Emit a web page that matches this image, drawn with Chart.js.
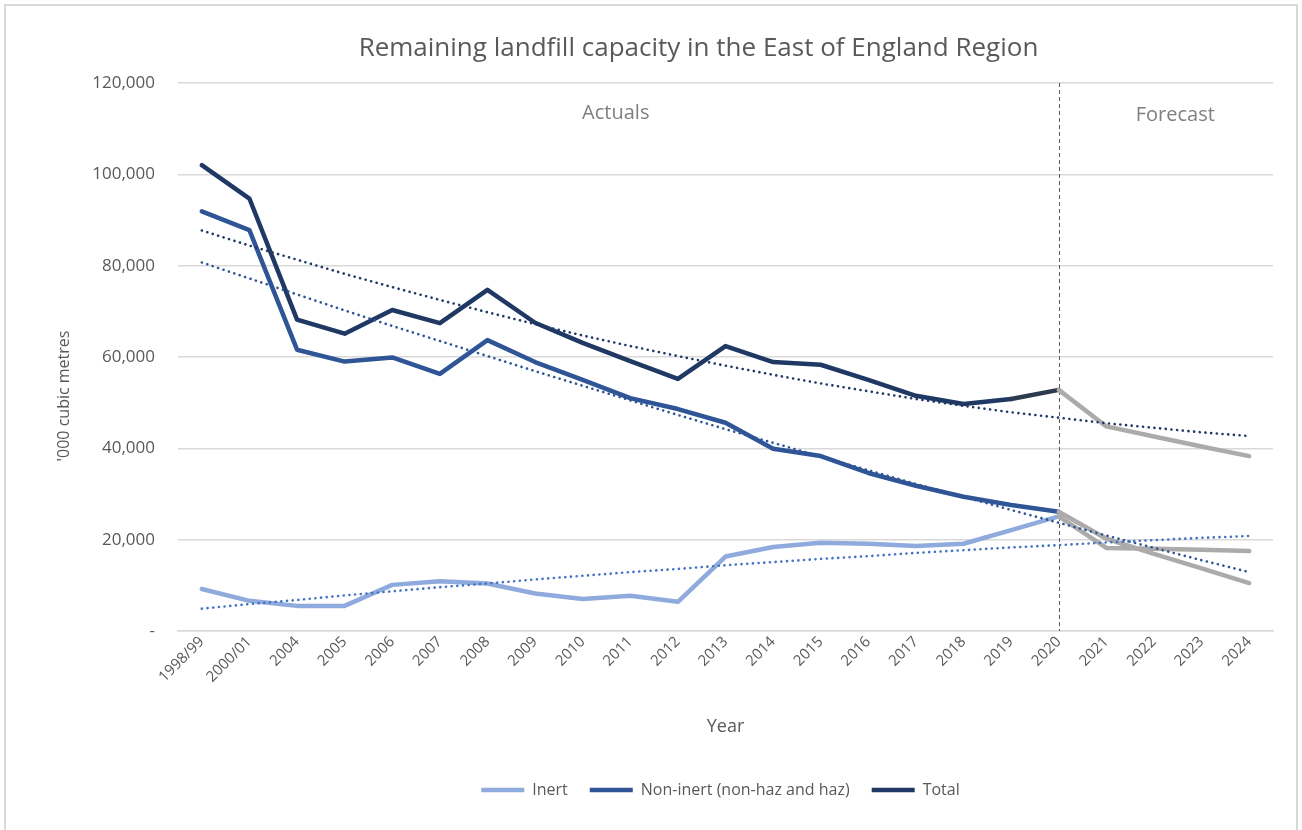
<!DOCTYPE html>
<html>
<head>
<meta charset="utf-8">
<script src="https://cdn.jsdelivr.net/npm/chart.js@4"></script>
<style>
  html, body { margin: 0; padding: 0; background: #ffffff; }
  #wrap { width: 1302px; height: 830px; position: relative; }
</style>
</head>
<body>
<div id="wrap"><canvas id="c" width="1302" height="830"></canvas></div>
<script>
// ---- data ----
const categories = ['1998/99','2000/01','2004','2005','2006','2007','2008','2009','2010','2011','2012','2013','2014','2015','2016','2017','2018','2019','2020','2021','2022','2023','2024'];
const inert    = [9200, 6600, 5500, 5500, 10100, 10900, 10400, 8200, 7000, 7700, 6400, 16300, 18400, 19300, 19100, 18600, 19100, 22100, 25100, 18200, 18000, 17800, 17500];
const nonInert = [91900, 87800, 61600, 59000, 59900, 56300, 63700, 58900, 55000, 51000, 48600, 45600, 39900, 38300, 34600, 31800, 29400, 27600, 26100, 20200, 16900, 13700, 10500];
const total    = [102000, 94700, 68200, 65100, 70300, 67400, 74700, 67500, 63100, 59100, 55200, 62400, 58900, 58300, 55000, 51500, 49700, 50800, 52800, 44800, 42600, 40400, 38300];
// dotted trend lines, values at each category
const inertTrend    = [4900, 5900, 6800, 7800, 8700, 9600, 10400, 11300, 12100, 12900, 13600, 14400, 15100, 15800, 16400, 17100, 17700, 18300, 18800, 19400, 19900, 20400, 20800];
const nonInertTrend = [80700, 77200, 73700, 70200, 66800, 63500, 60200, 56900, 53700, 50500, 47300, 44200, 41200, 38200, 35200, 32200, 29400, 26500, 23700, 20900, 18200, 15500, 12900];
const totalTrend    = [87700, 84400, 81300, 78200, 75300, 72500, 69800, 67200, 64700, 62400, 60200, 58100, 56100, 54200, 52500, 50800, 49300, 47900, 46700, 45500, 44500, 43500, 42700];
const forecastStart = '2020';
const yTicks = [0, 20000, 40000, 60000, 80000, 100000, 120000];
const seriesNames = ['Inert', 'Non-inert (non-haz and haz)', 'Total'];

const FONT = "'Open Sans', 'Noto Sans', sans-serif";
const TEXT = '#595959';
const GREY = '#ADAAAA';
const forecastIdx = categories.indexOf(forecastStart);

function seg(base, special) {
  return {
    borderColor: ctx => {
      if (ctx.p0DataIndex >= forecastIdx) return GREY;
      if (special && ctx.p0DataIndex === forecastIdx - 1) return special;
      return base;
    }
  };
}
function mainLine(label, data, color, order, special) {
  return {
    label, data, borderColor: color, backgroundColor: color,
    borderWidth: 4.5, pointRadius: 0, pointHoverRadius: 0,
    borderJoinStyle: 'round', borderCapStyle: 'round',
    tension: 0, order, segment: seg(color, special)
  };
}
function trendLine(values, color) {
  return {
    label: 'trend', data: values,
    borderColor: color, borderWidth: 2.6, borderDash: [0.1, 5.6],
    borderCapStyle: 'round', pointRadius: 0, pointHoverRadius: 0, order: 0
  };
}

const overlay = {
  id: 'overlay',
  afterLayout(chart) {
    // centre title and legend the way the reference does
    if (chart.titleBlock) { chart.titleBlock.left = 124; chart.titleBlock.right = 1273; }
    if (chart.legend) { chart.legend.left = 168; chart.legend.right = 1273; }
  },
  beforeDatasetsDraw(chart) {
    const { ctx, chartArea: a, scales: { x } } = chart;
    const px = Math.round(x.getPixelForValue(forecastIdx)) + 0.5;
    ctx.save();
    ctx.strokeStyle = '#595959';
    ctx.lineWidth = 1;
    ctx.setLineDash([4, 3]);
    ctx.beginPath();
    ctx.moveTo(px, a.top);
    ctx.lineTo(px, a.bottom);
    ctx.stroke();
    ctx.setLineDash([]);
    ctx.fillStyle = '#7F7F7F';
    ctx.font = "20px " + FONT;
    ctx.textAlign = 'center';
    ctx.textBaseline = 'middle';
    ctx.fillText('Actuals', (a.left + px) / 2 - 3, a.top + 30);
    ctx.fillText('Forecast', (px + a.right) / 2 + 9, a.top + 32);
    ctx.restore();
  },
  afterDraw(chart) {
    const { ctx } = chart;
    ctx.save();
    ctx.fillStyle = TEXT;
    ctx.font = "16px " + FONT;
    ctx.textAlign = 'center';
    ctx.textBaseline = 'middle';
    ctx.translate(64, 396);
    ctx.rotate(-Math.PI / 2);
    ctx.fillText("'000 cubic metres", 0, 0);
    ctx.restore();
    ctx.save();
    ctx.strokeStyle = '#D9D9D9';
    ctx.lineWidth = 2;
    ctx.strokeRect(5, 5, 1292, 850);
    ctx.restore();
  }
};

new Chart(document.getElementById('c'), {
  type: 'line',
  data: {
    labels: categories,
    datasets: [
      mainLine(seriesNames[0], inert, '#8FAADC', 3),
      mainLine(seriesNames[1], nonInert, '#2F5597', 2),
      mainLine(seriesNames[2], total, '#203864', 1, '#2E3A4E'),
      trendLine(inertTrend, '#4472C4'),
      trendLine(nonInertTrend, '#2F5597'),
      trendLine(totalTrend, '#203864')
    ]
  },
  options: {
    responsive: false,
    animation: false,
    events: [],
    layout: { padding: { top: 0, left: 0, right: 29, bottom: 22 } },
    plugins: {
      title: {
        display: true,
        text: 'Remaining landfill capacity in the East of England Region',
        color: TEXT,
        font: { family: FONT, size: 26, weight: 'normal', lineHeight: 1.2 },
        padding: { top: 32.5, bottom: 19.3 }
      },
      legend: {
        position: 'bottom',
        labels: {
          usePointStyle: true,
          pointStyle: 'line',
          pointStyleWidth: 43,
          color: TEXT,
          padding: 22,
          font: { family: FONT, size: 16 },
          filter: item => item.text !== 'trend',
          sort: (a, b) => a.datasetIndex - b.datasetIndex
        }
      },
      tooltip: { enabled: false }
    },
    scales: {
      x: {
        type: 'category',
        offset: true,
        grid: { display: false, drawTicks: false },
        border: { display: true, color: '#D9D9D9', width: 1.5 },
        ticks: {
          color: TEXT, font: { family: FONT, size: 15 },
          minRotation: 45, maxRotation: 45, padding: 2, autoSkip: false
        },
        title: {
          display: true, text: 'Year', color: TEXT,
          font: { family: FONT, size: 18, lineHeight: 1.2 },
          padding: { top: 0, bottom: 22.5 }
        },
        afterFit(s) { s.height = 129; }
      },
      y: {
        min: 0, max: 120000,
        afterBuildTicks(s) { s.ticks = yTicks.map(v => ({ value: v })); },
        grid: { color: '#D9D9D9', lineWidth: 1.5, drawTicks: false },
        border: { display: false },
        ticks: {
          color: TEXT, font: { family: FONT, size: 17 }, padding: 23,
          callback: v => v === 0 ? '-' : v.toLocaleString('en-GB')
        },
        afterFit(s) { s.width = 178; }
      }
    }
  },
  plugins: [overlay]
});
</script>
</body>
</html>
